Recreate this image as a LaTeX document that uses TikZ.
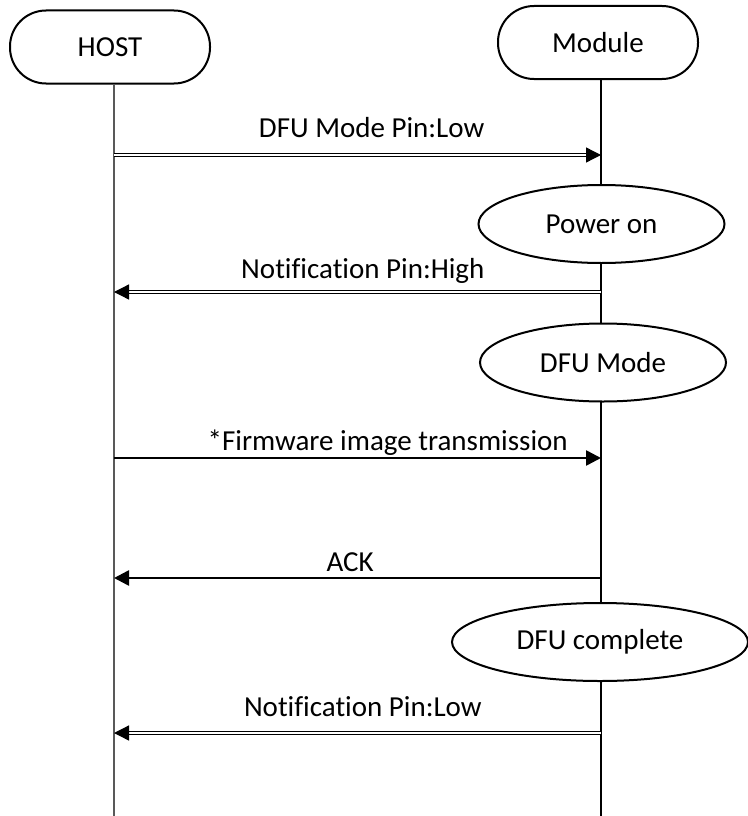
\documentclass[tikz,border=0pt]{standalone}
\usepackage{fontspec}
\setmainfont[Ligatures=NoCommon]{Carlito}
\usetikzlibrary{arrows.meta,shapes.geometric}
\begin{document}
\begin{tikzpicture}[x=1pt,y=-1pt,
  font=\fontsize{29}{34}\selectfont,
  >={Triangle[length=15pt,width=15pt]},
  actor/.style={draw,line width=2pt,rounded corners=36pt,minimum width=200pt,minimum height=73pt,inner sep=0pt},
  state/.style={draw,ellipse,fill=white,line width=2pt,inner sep=0pt,minimum height=78pt},
  sig/.style={double,line width=1.3pt,double distance=1.6pt,->},
  msg/.style={line width=2.6pt,->},
  lbl/.style={anchor=base,inner sep=0pt}]
\useasboundingbox (0,0) rectangle (747,816);

% participants and lifelines
\node[actor] (host) at (110,47) {HOST};
\node[actor] (module) at (598,42.5) {Module};
\coordinate (hostEnd) at (114,816);
\coordinate (modEnd) at (601,816);
\draw[line width=1.8pt,black!65] (host.south -| hostEnd) -- (hostEnd);
\draw[line width=1.3pt] (module.south -| modEnd) -- (modEnd);

% states of the module
\node[state,minimum width=246pt] (pwr) at (601.5,224) {Power on};
\node[state,minimum width=246pt] (dfu) at (603,362.5) {DFU Mode};
\node[state,minimum width=296pt] (done) at (600,642) {DFU complete};

% message points
\foreach \n/\y in {1/155,2/292,3/458,4/578,5/733}{
  \coordinate (h\n) at (114,\y);
  \coordinate (m\n) at (601,\y);
}

\draw[sig] (h1) -- node[lbl,pos=.529,yshift=18pt]{DFU Mode Pin:Low} (m1);
\draw[sig] (m2) -- node[lbl,pos=.489,yshift=14pt]{Notification Pin:High} (h2);
\draw[msg] (h3) -- node[lbl,pos=.562,yshift=8pt]{*Firmware image transmission} (m3);
\draw[msg] (m4) -- node[lbl,pos=.515,yshift=7pt]{ACK} (h4);
\draw[sig] (m5) -- node[lbl,pos=.489,yshift=17pt]{Notification Pin:Low} (h5);
\end{tikzpicture}
\end{document}
